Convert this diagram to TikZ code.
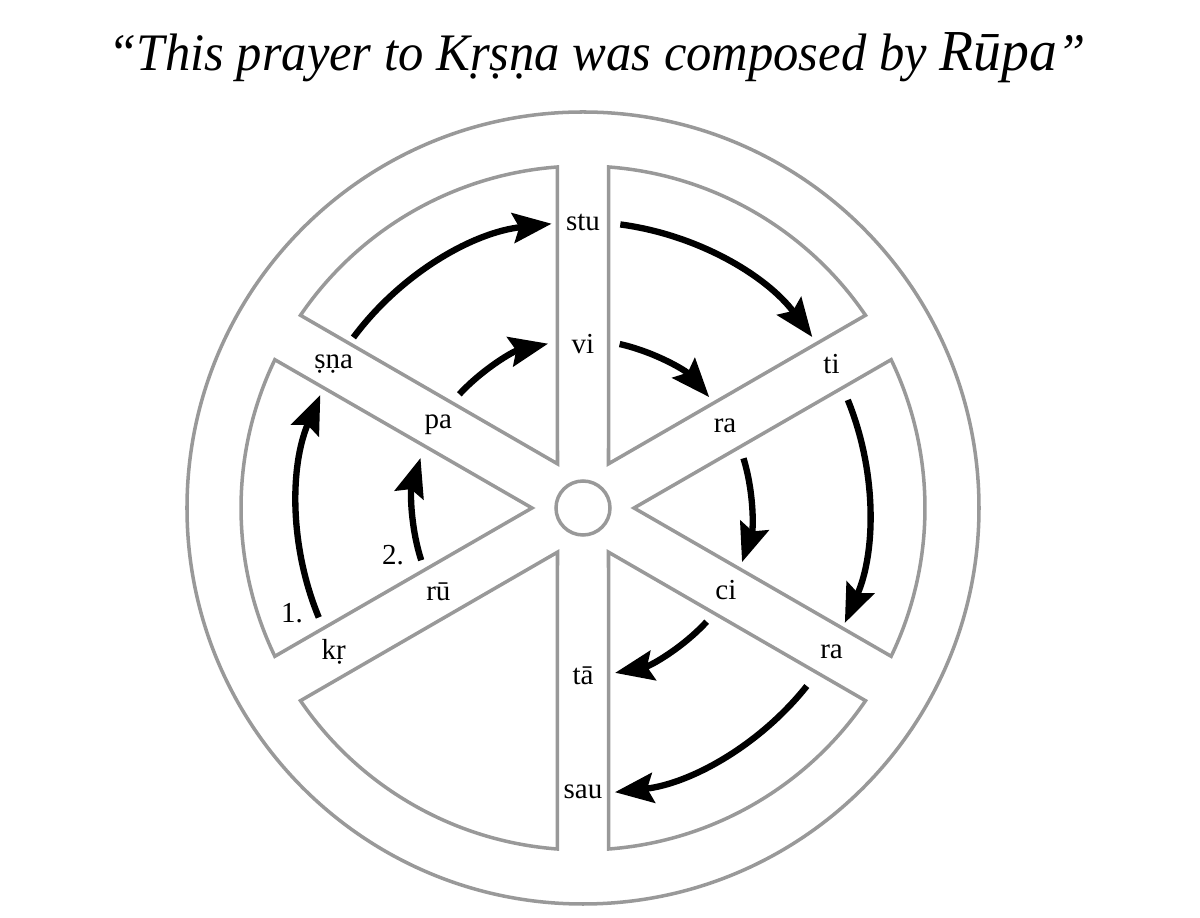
\documentclass[tikz,border=0pt]{standalone}
\usepackage{fontspec}
\setmainfont{Liberation Serif}
\usetikzlibrary{arrows.meta}

\tikzset{
  rim/.style={draw=black!40,line width=2pt},
  flow/.style={line width=3.6pt,-{Stealth[length=22pt,width=17pt,inset=3.5pt]}},
  syl/.style={font=\fontsize{16.5}{19}\selectfont,inner sep=1pt}
}

\begin{document}
\begin{tikzpicture}[x=0.02cm,y=0.02cm]
\useasboundingbox (-583,-410) rectangle (617,508);
\node[anchor=base,xscale=0.96,font=\fontsize{30}{34}\selectfont\itshape] (title) at (14,437) {“This prayer to Kṛṣṇa was composed by {\fontsize{33}{34}\selectfont Rūpa}”};

\draw[rim] (0,0) circle (396);
\draw[rim] (0,0) circle (27);
\draw[rim] (60:51) -- (34.3:342) arc[start angle=34.3,end angle=85.7,radius=342] -- cycle;
\draw[rim] (120:51) -- (94.3:342) arc[start angle=94.3,end angle=145.7,radius=342] -- cycle;
\draw[rim] (180:51) -- (154.3:342) arc[start angle=154.3,end angle=205.7,radius=342] -- cycle;
\draw[rim] (240:51) -- (214.3:342) arc[start angle=214.3,end angle=265.7,radius=342] -- cycle;
\draw[rim] (300:51) -- (274.3:342) arc[start angle=274.3,end angle=325.7,radius=342] -- cycle;
\draw[rim] (0:51) -- (-25.7:342) arc[start angle=-25.7,end angle=25.7,radius=342] -- cycle;

\node[syl] (stu) at (90:286) {stu};
\node[syl] (vi) at (90:164) {vi};
\node[syl] (ti) at (30:287) {ti};
\node[syl] (raA) at (30:164) {ra};
\node[syl] (raB) at (-30:287) {ra};
\node[syl] (ci) at (-30:165) {ci};
\node[syl] (sau) at (-90:284) {sau};
\node[syl] (ta) at (-90:168) {tā};
\node[syl] (kr) at (210:288) {kṛ};
\node[syl] (ru) at (210:167) {rū};
\node[syl] (sna) at (150:288) {ṣṇa};
\node[syl] (pa) at (150:167) {pa};
\node[syl] (one) at (-291,-105) {1.};
\node[syl] (two) at (-190,-47) {2.};

% outer line of syllables
\draw[flow] (202.5:286) arc[start angle=202.5,end angle=156.7,radius=286];
\draw[flow] (143.4:286) arc[start angle=143.4,end angle=96.3,radius=286];
\draw[flow] (82.5:286) arc[start angle=82.5,end angle=36.7,radius=286];
\draw[flow] (22.2:286) arc[start angle=22.2,end angle=-23.7,radius=286];
\draw[flow] (-38.5:286) arc[start angle=-38.5,end angle=-83.6,radius=286];
% inner line of syllables
\draw[flow] (197.9:170) arc[start angle=197.9,end angle=162.9,radius=170];
\draw[flow] (137.4:168) arc[start angle=137.4,end angle=102,radius=168];
\draw[flow] (77.4:168) arc[start angle=77.4,end angle=41.3,radius=168];
\draw[flow] (17.2:168) arc[start angle=17.2,end angle=-18.8,radius=168];
\draw[flow] (-42.6:168) arc[start angle=-42.6,end angle=-79,radius=168];
\end{tikzpicture}
\end{document}
